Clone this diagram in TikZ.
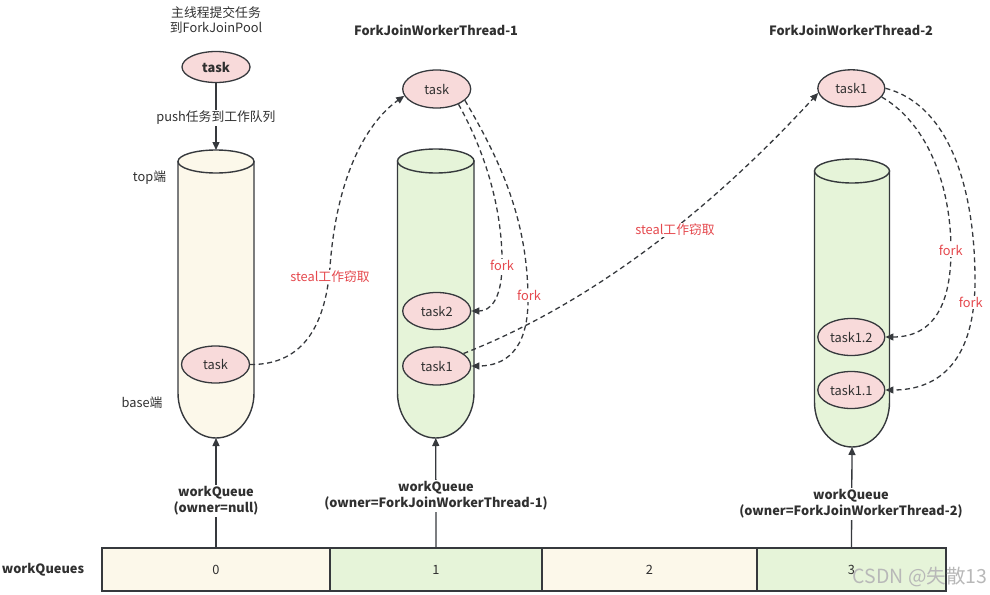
\documentclass[tikz,border=0pt]{standalone}
\usepackage{fontspec}
\setmainfont{Noto Sans CJK SC}
\usetikzlibrary{arrows.meta,shapes.geometric}
\definecolor{cream}{HTML}{FCF8EA}
\definecolor{leaf}{HTML}{E6F4D9}
\definecolor{pinkfill}{HTML}{F8DADA}
\definecolor{ink}{HTML}{36393D}
\definecolor{redtxt}{HTML}{E5484D}
\definecolor{txt}{HTML}{303030}
\newcommand\mytube[7]{%
  \pgfmathsetmacro\tcx{(#1+#2)/2}%
  \pgfmathsetmacro\trx{(#2-#1)/2}%
  \pgfmathsetmacro\tka{#5+0.552*(#6-#5)}%
  \pgfmathsetmacro\tkb{\tcx-0.552*\trx}%
  \pgfmathsetmacro\tkc{\tcx+0.552*\trx}%
  \draw[tubeline, fill=#7] (#1,#3) -- (#1,#5) .. controls (#1,\tka) and (\tkb,#6) .. (\tcx,#6) .. controls (\tkc,#6) and (#2,\tka) .. (#2,#5) -- (#2,#3) -- cycle;
  \draw[tubeline, fill=#7] (\tcx,#3) ellipse [x radius=\trx, y radius=#4];
}
\begin{document}
\begin{tikzpicture}[x=1pt,y=-1pt,
  font=\fontsize{12.8}{15}\selectfont,
  tubeline/.style={draw=ink, line width=1.4pt},
  tasknode/.style={ellipse, draw=ink, line width=1.3pt, fill=pinkfill, minimum width=68pt, minimum height=37pt, inner sep=0pt, text=txt},
  arr/.style={draw=ink, line width=1.3pt, -{Triangle[length=8pt,width=7pt]}},
  dsh/.style={arr, dash pattern=on 5pt off 3.5pt},
  plain/.style={text=txt, inner sep=1pt},
  lbl/.style={text=txt, fill=white, inner sep=1.5pt, align=center},
  redlbl/.style={text=redtxt, fill=white, inner sep=1pt},
  head/.style={text=txt, font=\fontsize{12.8}{15}\selectfont\bfseries},
  cell/.style={draw=ink, line width=1.4pt, minimum height=43pt, inner sep=0pt, text=txt}
]
\useasboundingbox (0,0) rectangle (990,594);

% top text
\node[plain, align=center, font=\fontsize{12.8}{15.5}\selectfont] (intro) at (216,20) {主线程提交任务\\到ForkJoinPool};
\node[tasknode, minimum height=31pt, font=\fontsize{12.8}{15}\selectfont\bfseries] (mt) at (216,67) {task};

% headings
\node[head] (h1) at (436,30) {ForkJoinWorkerThread-1};
\node[head] (h2) at (851,30) {ForkJoinWorkerThread-2};

% tubes
\mytube{178}{254}{161.5}{11.5}{393}{438}{cream}
\mytube{397.5}{474}{161}{12}{393}{438}{leaf}
\mytube{814.5}{889.5}{171}{12}{402}{447}{leaf}
\coordinate (cyl0t) at (216,150);
\coordinate (cyl0b) at (216,438);
\coordinate (cyl1b) at (435.75,438);
\coordinate (cyl2b) at (852,447);

\node[plain] (toplbl) at (149.5,178) {top端};
\node[plain] (baselbl) at (142,403) {base端};

% task nodes
\node[tasknode] (q0task) at (215.5,364.5) {task};
\node[tasknode, minimum height=38pt] (t1task) at (436.7,89) {task};
\node[tasknode] (t1task2) at (436.7,311) {task2};
\node[tasknode, minimum height=38pt] (t1task1) at (436.7,366) {task1};
\node[tasknode, minimum width=67pt] (t2task) at (851.3,88.3) {task1};
\node[tasknode, minimum width=67pt] (t2task2) at (851.3,337) {task1.2};
\node[tasknode, minimum width=67pt] (t2task1) at (851.3,390) {task1.1};

% push arrow
\draw[arr] (mt) -- (cyl0t);
\node[lbl] (pushlbl) at (216,118) {push任务到工作队列};

% bar
\node[cell, fill=cream, minimum width=228pt] (c0) at (216,569.5) {0};
\node[cell, fill=leaf, minimum width=212pt] (c1) at (436,569.5) {1};
\node[cell, fill=cream, minimum width=215pt] (c2) at (649.5,569.5) {2};
\node[cell, fill=leaf, minimum width=189pt] (c3) at (851.5,569.5) {3};
\node[head] (wqs) at (43,570) {workQueues};

\draw[arr] (c0.north) -- (cyl0b);
\draw[arr] (c1.north) -- (cyl1b);
\draw[arr] (c3.north) -- (cyl2b);
\node[lbl, font=\fontsize{12.8}{16}\selectfont\bfseries] (wq0) at (216,501) {workQueue\\(owner=null)};
\node[lbl, font=\fontsize{12.8}{16}\selectfont\bfseries] (wq1) at (436,496) {workQueue\\(owner=ForkJoinWorkerThread-1)};
\node[lbl, font=\fontsize{12.8}{16}\selectfont\bfseries] (wq2) at (851,504) {workQueue\\(owner=ForkJoinWorkerThread-2)};

% steal arrows
\draw[dsh] (q0task.east) .. controls (300,365) and (325,330) .. (330,267) .. controls (337,170) and (370,120) .. (t1task.192);
\node[redlbl] (st1) at (330,277) {steal工作窃取};
\draw[dsh] (t1task1.25) .. controls (600,300) and (720,200) .. (t2task.188);
\node[redlbl] (st2) at (675,230) {steal工作窃取};

% fork arrows thread 1
\draw[dsh] (t1task.-35) .. controls (495,170) and (503,230) .. (502,268) .. controls (501,300) and (490,311) .. (t1task2.east);
\draw[dsh] (t1task.-22) .. controls (500,160) and (528,220) .. (528,300) .. controls (528,350) and (505,366) .. (t1task1.east);
\node[redlbl] (f1) at (502,265.5) {fork};
\node[redlbl] (f2) at (529,295.5) {fork};

% fork arrows thread 2
\draw[dsh] (t2task.-16) .. controls (930,125) and (951,190) .. (951,250) .. controls (951,310) and (930,337) .. (t2task2.east);
\draw[dsh] (t2task.east) .. controls (950,105) and (975,190) .. (975,280) .. controls (975,360) and (940,390) .. (t2task1.east);
\node[redlbl] (f3) at (950.7,250.5) {fork};
\node[redlbl] (f4) at (970.7,302.5) {fork};

% watermark
\node[text=black!28, font=\fontsize{19.5}{21}\selectfont, inner sep=0pt] (wm) at (920,576.5) {CSDN @失散13};
\end{tikzpicture}
\end{document}
